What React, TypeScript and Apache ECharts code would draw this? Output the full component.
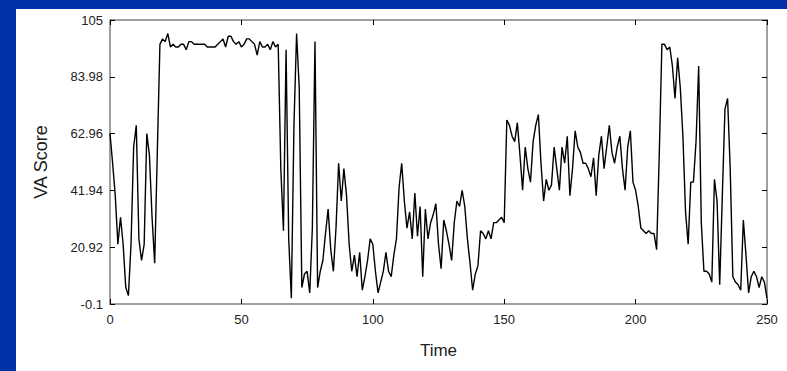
import React, { useEffect, useRef } from "react";
import * as echarts from "echarts";

const xTicks = [0, 50, 100, 150, 200, 250];
const yTicks = [-0.1, 20.92, 41.94, 62.96, 83.98, 105];

// VA Score sampled at Time = 0, 1, 2, ... 250
const vaScore = [
  63, 52, 40, 22, 32, 22, 6, 3, 22, 58,
  66, 24, 16, 22, 63, 55, 32, 15, 56, 96,
  98, 97, 100, 95, 96, 95, 95, 96, 96, 94,
  97, 97, 96, 96, 96, 96, 96, 95, 95, 95,
  95, 96, 97, 98, 95, 99, 99, 97, 96, 97,
  95, 96, 98, 98, 97, 96, 92, 97, 95, 95,
  96, 94, 97, 95, 96, 50, 27, 94, 24, 2,
  66, 100, 80, 6, 11, 12, 4, 28, 97, 6,
  12, 16, 26, 35, 20, 12, 28, 52, 38, 50,
  40, 22, 12, 18, 10, 19, 5, 10, 16, 24,
  22, 12, 4, 8, 12, 19, 12, 10, 18, 24,
  43, 52, 38, 28, 34, 24, 41, 25, 36, 10,
  35, 24, 30, 33, 37, 22, 13, 31, 27, 22,
  16, 30, 38, 36, 42, 36, 24, 15, 5, 11,
  14, 27, 26, 24, 27, 24, 30, 30, 31, 32,
  30, 68, 66, 62, 60, 67, 55, 42, 58, 50,
  45, 60, 66, 70, 52, 38, 46, 42, 44, 58,
  50, 42, 58, 52, 62, 40, 50, 64, 58, 56,
  52, 52, 50, 47, 54, 40, 55, 62, 50, 58,
  66, 56, 52, 58, 62, 50, 42, 58, 64, 45,
  42, 36, 28, 27, 26, 27, 26, 26, 20, 55,
  96, 96, 94, 95, 88, 76, 91, 80, 62, 34,
  22, 45, 45, 60, 88, 30, 12, 12, 11, 8,
  46, 38, 7, 40, 72, 76, 50, 10, 8, 7,
  5, 31, 18, 4, 10, 12, 10, 6, 10, 8,
  2,
];

const FONT = "'Liberation Sans', Arial, Helvetica, sans-serif";

export default function App() {
  const ref = useRef<HTMLDivElement>(null);

  useEffect(() => {
    if (!ref.current) return;
    const chart = echarts.init(ref.current, null, { renderer: "svg" });
    const data = vaScore.map((v, i) => [i, v]);
    const axisLine = { show: true, onZero: false, lineStyle: { color: "#a0a0a0", width: 2 } };
    const tick = { show: true, inside: true, length: 5, lineStyle: { color: "#000", width: 1 } };
    chart.setOption({
      animation: false,
      backgroundColor: "transparent",
      grid: { left: 110, top: 20, right: 20, bottom: 67, show: false },
      xAxis: [
        {
          type: "value",
          min: 0,
          max: 250,
          interval: 50,
          position: "bottom",
          name: "Time",
          nameLocation: "middle",
          nameGap: 38,
          nameTextStyle: { fontFamily: FONT, fontSize: 17, color: "#222" },
          axisLine,
          axisTick: { ...tick, customValues: xTicks },
          splitLine: { show: false },
          axisLabel: { fontFamily: FONT, fontSize: 13, color: "#222", margin: 9, customValues: xTicks },
        },
        {
          type: "value",
          min: 0,
          max: 250,
          interval: 50,
          position: "top",
          axisLine,
          axisTick: { ...tick, customValues: xTicks },
          splitLine: { show: false },
          axisLabel: { show: false },
        },
      ],
      yAxis: [
        {
          type: "value",
          min: -0.1,
          max: 105,
          position: "left",
          name: "VA Score",
          nameLocation: "middle",
          nameGap: 60,
          nameRotate: 90,
          nameTextStyle: { fontFamily: FONT, fontSize: 18, color: "#222" },
          axisLine,
          axisTick: { ...tick, customValues: yTicks },
          splitLine: { show: false },
          axisLabel: {
            fontFamily: FONT,
            fontSize: 13,
            color: "#222",
            margin: 7,
            customValues: yTicks,
            formatter: (v: number) => String(v),
          },
        },
        {
          type: "value",
          min: -0.1,
          max: 105,
          position: "right",
          axisLine,
          axisTick: { ...tick, customValues: yTicks },
          splitLine: { show: false },
          axisLabel: { show: false, customValues: yTicks },
        },
      ],
      series: [
        {
          type: "line",
          data,
          xAxisIndex: 0,
          yAxisIndex: 0,
          showSymbol: false,
          symbol: "none",
          lineStyle: { color: "#000", width: 1.4 },
          z: 1,
        },
      ],
    });
    return () => chart.dispose();
  }, []);

  return (
    <div style={{ position: "fixed", left: 0, top: 0, width: 787, height: 371, background: "#0033a8", overflow: "hidden" }}>
      <div style={{ position: "absolute", left: 16, top: 9, right: 0, bottom: 0, background: "#fff" }} />
      <div ref={ref} style={{ position: "absolute", left: 0, top: 0, width: 787, height: 371 }} />
    </div>
  );
}
